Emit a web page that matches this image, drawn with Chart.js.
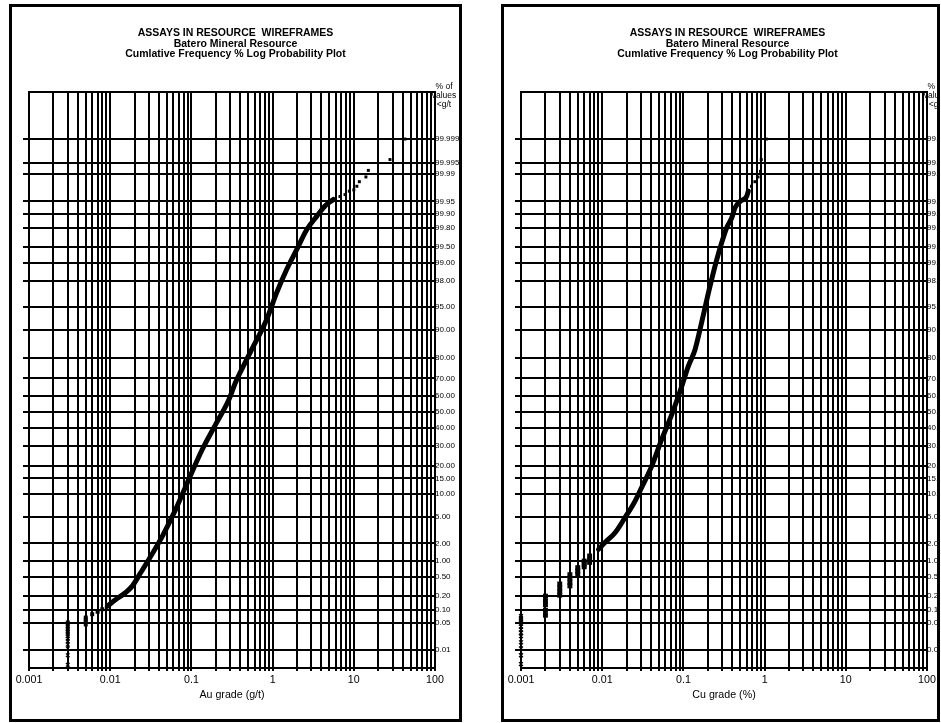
<!DOCTYPE html>
<html>
<head>
<meta charset="utf-8">
<script src="https://cdn.jsdelivr.net/npm/chart.js@4.4.1/dist/chart.umd.min.js"></script>
<style>
  body { margin: 0; background: #fff; }
  .panel { position: absolute; top: 4px; height: 712px; border: 3px solid #000; overflow: hidden; background: #fff; }
  .panel canvas { display: block; }
</style>
</head>
<body>
<div class="panel" style="left:9px; width:447px"><canvas id="auChart" width="447" height="712"></canvas></div>
<div class="panel" style="left:501px; width:433px"><canvas id="cuChart" width="447" height="712"></canvas></div>
<script>
// cumulative frequency (%) ticks on the probability axis
const probTicks = [0.01, 0.05, 0.1, 0.2, 0.5, 1, 2, 5, 10, 15, 20, 30, 40, 50, 60, 70, 80, 90, 95, 98, 99, 99.5, 99.8, 99.9, 99.95, 99.99, 99.995, 99.999];
const probTickLabels = ['0.01', '0.05', '0.10', '0.20', '0.50', '1.00', '2.00', '5.00', '10.00', '15.00', '20.00', '30.00', '40.00', '50.00', '60.00', '70.00', '80.00', '90.00', '95.00', '98.00', '99.00', '99.50', '99.80', '99.90', '99.95', '99.99', '99.995', '99.999'];
const gradeTickLabels = ['0.001', '0.01', '0.1', '1', '10', '100'];

const titleLines = ['ASSAYS IN RESOURCE  WIREFRAMES', 'Batero Mineral Resource', 'Cumlative Frequency % Log Probability Plot'];
const noteLines = ['% of', 'values', '<g/t'];

// Au grade (g/t) vs cumulative %
const auDetectGrade = [0.003, 0.003, 0.003, 0.003, 0.003, 0.003, 0.003, 0.003, 0.003, 0.003, 0.003, 0.003, 0.003, 0.003, 0.003];
const auDetectPct = [0.050, 0.046, 0.042, 0.038, 0.035, 0.032, 0.029, 0.026, 0.023, 0.020, 0.017, 0.014, 0.011, 0.0072, 0.0039];
const auLowGrade = [0.005, 0.005, 0.005, 0.005, 0.006, 0.007, 0.008];
const auLowPct = [0.045, 0.052, 0.059, 0.066, 0.079, 0.090, 0.103];
const auCurveGrade = [0.0092, 0.0117, 0.0155, 0.0188, 0.0237, 0.030, 0.0438, 0.064, 0.093, 0.136, 0.199, 0.29, 0.348, 0.527, 0.845, 1.12, 1.49, 1.98, 2.63, 3.49, 4.42, 5.6];
const auCurvePct = [0.12, 0.17, 0.24, 0.33, 0.60, 1.07, 2.6, 6.4, 14.7, 27.9, 42.3, 57.7, 67.6, 82.2, 92.6, 96.86, 98.70, 99.44, 99.78, 99.888, 99.936, 99.955];
const auHighGrade = [6.76, 7.8, 8.8, 10.0, 10.9, 11.7, 14.1, 15.1, 27.9, 42.7];
const auHighPct = [99.962, 99.966, 99.972, 99.974, 99.979, 99.984, 99.988, 99.992, 99.996, 99.999];

// Cu grade (%) vs cumulative %
const cuDetectGrade = [0.001, 0.001, 0.001, 0.001, 0.001, 0.001, 0.001, 0.001, 0.001, 0.001, 0.001, 0.001, 0.001];
const cuDetectPct = [0.071, 0.064, 0.058, 0.052, 0.047, 0.040, 0.034, 0.028, 0.023, 0.016, 0.011, 0.0072, 0.0041];
const cuLowGrade = [0.002, 0.002, 0.002, 0.002, 0.002, 0.003, 0.003, 0.003, 0.003, 0.004, 0.004, 0.004, 0.004, 0.005, 0.005, 0.005, 0.006, 0.006, 0.006, 0.007, 0.007, 0.007];
const cuLowPct = [0.20, 0.16, 0.13, 0.097, 0.075, 0.36, 0.30, 0.25, 0.21, 0.55, 0.47, 0.39, 0.33, 0.75, 0.65, 0.57, 0.99, 0.87, 0.78, 1.22, 1.07, 0.94];
const cuCurveGrade = [0.0090, 0.0108, 0.0144, 0.0191, 0.0254, 0.0306, 0.0407, 0.054, 0.0718, 0.0953, 0.115, 0.139, 0.16, 0.212, 0.257, 0.296, 0.341, 0.393, 0.432, 0.498, 0.60, 0.63];
const cuCurvePct = [1.59, 2.07, 2.96, 4.95, 8.2, 11.9, 19.9, 33.4, 48.4, 65.5, 76.3, 83.5, 90.1, 97.5, 99.13, 99.59, 99.80, 99.878, 99.929, 99.950, 99.962, 99.972];
const cuHighGrade = [0.69, 0.76, 0.83, 0.89, 0.91, 1.05];
const cuHighPct = [99.979, 99.984, 99.988, 99.9915, 99.996, 99.999];

Chart.defaults.font.family = 'Arial, "Liberation Sans", sans-serif';
Chart.defaults.color = '#000';

// inverse of the standard normal CDF (Acklam)
function probit(p) {
  const a = [-39.69683028665376, 220.9460984245205, -275.9285104469687, 138.3577518672690, -30.66479806614716, 2.506628277459239];
  const b = [-54.47609879822406, 161.5858368580409, -155.6989798598866, 66.80131188771972, -13.28068155288572];
  const c = [-0.007784894002430293, -0.3223964580411365, -2.400758277161838, -2.549671010321221, 4.374664141464968, 2.938163982698783];
  const d = [0.007784695709041462, 0.3224671290700398, 2.445134137142996, 3.754408661907416];
  const lo = 0.02425;
  let q, r;
  if (p < lo) {
    q = Math.sqrt(-2 * Math.log(p));
    return (((((c[0] * q + c[1]) * q + c[2]) * q + c[3]) * q + c[4]) * q + c[5]) / ((((d[0] * q + d[1]) * q + d[2]) * q + d[3]) * q + 1);
  }
  if (p > 1 - lo) {
    q = Math.sqrt(-2 * Math.log(1 - p));
    return -(((((c[0] * q + c[1]) * q + c[2]) * q + c[3]) * q + c[4]) * q + c[5]) / ((((d[0] * q + d[1]) * q + d[2]) * q + d[3]) * q + 1);
  }
  q = p - 0.5;
  r = q * q;
  return (((((a[0] * r + a[1]) * r + a[2]) * r + a[3]) * r + a[4]) * r + a[5]) * q / (((((b[0] * r + b[1]) * r + b[2]) * r + b[3]) * r + b[4]) * r + 1);
}

function points(grades, pcts) {
  return grades.map((g, i) => ({ x: g, y: probit(pcts[i] / 100) }));
}

function probAxisTicks(axis) {
  axis.ticks = probTicks.map(p => ({ value: probit(p / 100) }));
}

function gradeAxisTicks(axis) {
  const t = [];
  for (let e = -3; e <= 1; e++) {
    for (let m = 1; m <= 9; m++) t.push({ value: m * Math.pow(10, e) });
  }
  t.push({ value: 100 });
  axis.ticks = t;
}

const frameAndNote = {
  id: 'frameAndNote',
  beforeDatasetsDraw(chart) {
    const { ctx, chartArea: a } = chart;
    ctx.save();
    ctx.strokeStyle = '#000';
    ctx.lineWidth = 2;
    ctx.strokeRect(a.left, a.top, a.right - a.left, a.bottom - a.top);
    ctx.restore();
  },
  afterDraw(chart) {
    const { ctx, chartArea: a } = chart;
    ctx.save();
    ctx.fillStyle = '#000';
    ctx.font = '8.5px Arial, "Liberation Sans", sans-serif';
    ctx.textAlign = 'center';
    ctx.textBaseline = 'middle';
    noteLines.forEach((s, i) => ctx.fillText(s, a.right + 9, 80 + i * 9));
    ctx.restore();
  }
};

function makeChart(id, axisTitle, detect, detectSize, low, lowSize, curve, high) {
  const dot = { type: 'scatter', pointStyle: 'rect', backgroundColor: '#000', borderWidth: 0, clip: false };
  new Chart(document.getElementById(id), {
    type: 'scatter',
    data: {
      datasets: [
        { data: detect, pointStyle: 'crossRot', pointRadius: detectSize, borderColor: '#000', borderWidth: 1.2, clip: false },
        Object.assign({}, dot, { data: low, pointRadius: lowSize }),
        {
          data: curve, showLine: true, cubicInterpolationMode: 'monotone',
          borderColor: '#000', borderWidth: 5, borderCapStyle: 'round', borderJoinStyle: 'round',
          pointRadius: 0, clip: false
        },
        Object.assign({}, dot, { data: high, pointRadius: 2.1 })
      ]
    },
    options: {
      responsive: false,
      animation: false,
      layout: { padding: 0 },
      plugins: {
        legend: { display: false },
        tooltip: { enabled: false },
        title: {
          display: true,
          text: titleLines,
          color: '#000',
          font: { size: 10.5, weight: 'bold', lineHeight: 1.0 },
          padding: { top: 21, bottom: 32.5 }
        }
      },
      scales: {
        x: {
          type: 'logarithmic',
          min: 0.001,
          max: 100,
          afterBuildTicks: gradeAxisTicks,
          afterFit(axis) { axis.height = 51; },
          grid: { color: '#000', lineWidth: 2, drawTicks: true, tickLength: 3 },
          border: { display: true, color: '#000', width: 2 },
          ticks: {
            autoSkip: false,
            maxRotation: 0,
            padding: 3,
            font: { size: 10.67 },
            callback(v) {
              const e = Math.log10(v);
              return Math.abs(e - Math.round(e)) < 1e-9 ? gradeTickLabels[Math.round(e) + 3] : '';
            }
          },
          title: { display: true, text: axisTitle, font: { size: 10.67 }, padding: { top: 0, bottom: 18 } }
        },
        yl: {
          type: 'linear',
          position: 'left',
          min: -4,
          max: 5,
          afterBuildTicks: probAxisTicks,
          afterFit(axis) { axis.width = 17; },
          grid: { color: '#000', lineWidth: 2, drawTicks: true, tickLength: 6 },
          border: { display: false },
          ticks: { display: false, autoSkip: false }
        },
        y: {
          type: 'linear',
          position: 'right',
          min: -4,
          max: 5,
          afterBuildTicks: probAxisTicks,
          afterFit(axis) { axis.width = 24; },
          grid: { display: false, drawTicks: false },
          border: { display: false },
          ticks: {
            autoSkip: false,
            padding: 0,
            font: { size: 8 },
            callback(v, i) { return probTickLabels[i]; }
          }
        }
      }
    },
    plugins: [frameAndNote]
  });
}

makeChart('auChart', 'Au grade (g/t)',
  points(auDetectGrade, auDetectPct), 2.6, points(auLowGrade, auLowPct), 2.8,
  points(auCurveGrade, auCurvePct), points(auHighGrade, auHighPct));

makeChart('cuChart', 'Cu grade (%)',
  points(cuDetectGrade, cuDetectPct), 2.8, points(cuLowGrade, cuLowPct), 3.5,
  points(cuCurveGrade, cuCurvePct), points(cuHighGrade, cuHighPct));
</script>
</body>
</html>
